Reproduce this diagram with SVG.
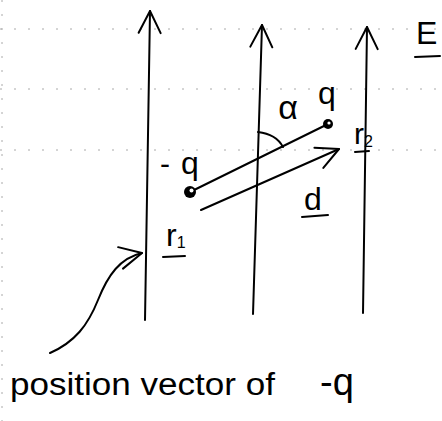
<svg xmlns="http://www.w3.org/2000/svg" width="442" height="421" viewBox="0 0 442 421">
<defs>
<style>
.ln{stroke:#000;stroke-width:2;fill:none;stroke-linecap:round}
.grid{stroke:#aaa;stroke-width:1;stroke-dasharray:2 12;fill:none}
.t{font-family:"Liberation Sans",Arial,sans-serif;fill:#000}
</style>
<marker id="vee" markerUnits="userSpaceOnUse" markerWidth="30" markerHeight="30" refX="0" refY="0" viewBox="-26 -15 30 30" orient="auto">
<path d="M-22,-11 L0,0 L-22,11" fill="none" stroke="#000" stroke-width="2" stroke-linecap="round" stroke-linejoin="round"/>
</marker>
</defs>
<rect width="442" height="421" fill="#fff"/>
<g id="ruling">
<line class="grid" x1="0" y1="29" x2="442" y2="29"/>
<line class="grid" x1="0" y1="89" x2="442" y2="89"/>
<line class="grid" x1="0" y1="150" x2="442" y2="150"/>
<line class="grid" x1="2" y1="0" x2="2" y2="421"/>
</g>
<g id="connectors">
<line id="field1" class="ln" x1="145" y1="320" x2="150" y2="11" marker-end="url(#vee)"/>
<line id="field2" class="ln" x1="253" y1="314" x2="262" y2="25" marker-end="url(#vee)"/>
<line id="field3" class="ln" x1="363" y1="313" x2="367" y2="27" marker-end="url(#vee)"/>
<line id="dipole" class="ln" x1="190" y1="192" x2="328" y2="124"/>
<line id="d-arrow" class="ln" x1="201" y1="210" x2="339" y2="149" marker-end="url(#vee)"/>
<path id="angle" class="ln" d="M258,132 Q276,134 283,147"/>
<path id="pointer" class="ln" d="M50,353 C75,342 88,325 98,300 C108,275 120,258 142,253" marker-end="url(#vee)"/>
</g>
<g id="charge-neg">
<circle cx="190" cy="192" r="6" fill="#000"/>
<circle cx="191.5" cy="190.5" r="2" fill="#fff"/>
<text class="t" x="160" y="174" font-size="30">-</text>
<text class="t" x="181" y="174" font-size="32">q</text>
</g>
<g id="charge-pos">
<circle cx="328" cy="124" r="5" fill="#000"/>
<circle cx="329" cy="123" r="1.6" fill="#fff"/>
<text class="t" x="318" y="104" font-size="32">q</text>
</g>
<g id="label-E">
<text class="t" x="416" y="44" font-size="32">E</text>
<line class="ln" x1="415" y1="57" x2="440" y2="56"/>
</g>
<g id="label-alpha">
<text class="t" x="288" y="119" font-size="34" text-anchor="middle">α</text>
</g>
<g id="label-d">
<text class="t" x="304" y="210" font-size="32">d</text>
<line class="ln" x1="302" y1="217" x2="328" y2="215"/>
</g>
<g id="label-r1">
<text class="t" x="166" y="246" font-size="32">r<tspan font-size="16" dy="2">1</tspan></text>
<line class="ln" x1="163" y1="257" x2="185" y2="256"/>
</g>
<g id="label-r2">
<text class="t" x="354" y="144" font-size="30">r<tspan font-size="16" dy="3">2</tspan></text>
<line class="ln" x1="355" y1="152" x2="369" y2="151"/>
</g>
<g id="caption">
<text class="t" x="10" y="395" font-size="31"><tspan textLength="265" lengthAdjust="spacingAndGlyphs">position vector of</tspan><tspan x="320" font-size="38">-q</tspan></text>
</g>
</svg>
